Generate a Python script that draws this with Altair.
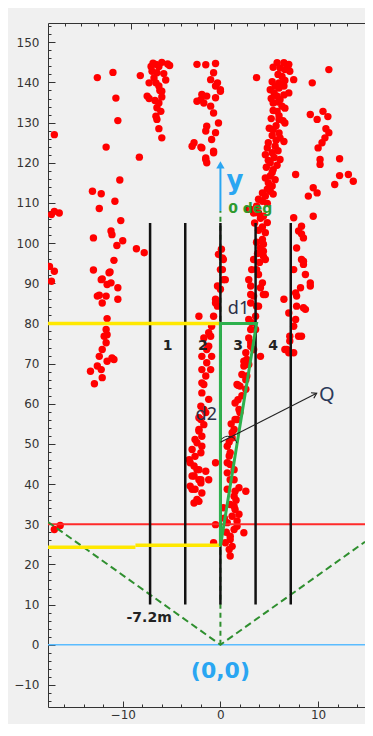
import altair as alt
import pandas as pd

# ---------------- scales ----------------
XDOM = [-17.65, 14.8]
YDOM = [-15.5, 154.8]
TOPDOM = [0, 3.819]

# ---------------- axis ticks ----------------
x_major = [-10, 0, 10]
x_minor = [v for v in range(-16, 16, 2) if v % 10 != 0]
y_major = [-10, 0, 10, 20, 30, 40, 50, 60, 70, 80, 90, 100, 110, 120, 130, 140, 150]
y_minor = [v for v in range(-14, 155, 2) if v % 10 != 0]
top_major = [1, 2, 3]
top_minor = [0.2, 0.4, 0.6, 0.8, 1.2, 1.4, 1.6, 1.8, 2.2, 2.4, 2.6, 2.8, 3.2, 3.4, 3.6]

# ---------------- detected points (x [m], y [m]) ----------------
pts_top_left = [
    (-7.1, 144.0), (-6.6, 144.5), (-6.3, 144.0), (-5.4, 144.6), (-7.0, 142.8), (-6.5, 142.4),
    (-5.8, 142.2), (-6.8, 141.1), (-7.3, 139.9), (-6.6, 139.9), (-6.3, 139.1), (-6.0, 137.8),
    (-7.5, 136.6), (-7.3, 136.0), (-6.3, 134.9), (-6.5, 133.7), (-6.1, 132.8), (-6.6, 131.6),
    (-6.5, 130.8), (-6.3, 128.5), (-6.0, 126.2), (-6.0, 145.0), (-5.2, 144.2), (-6.9, 144.8),
    (-5.6, 140.6), (-6.2, 138.0), (-6.7, 135.5), (-6.0, 136.4), (-8.2, 141.7),
]
pts_left_sparse = [
    (-12.6, 141.2), (-11.0, 142.5), (-10.7, 136.1), (-10.5, 130.5), (-11.7, 123.9), (-8.3, 121.4),
    (-10.3, 115.7), (-17.0, 127.0), (-13.1, 112.9), (-12.2, 112.3), (-10.8, 110.4), (-12.4, 108.6),
    (-10.2, 105.6), (-11.2, 103.0), (-11.1, 102.1), (-13.0, 101.3), (-10.0, 100.6), (-10.6, 99.4),
    (-8.6, 98.6), (-7.8, 97.6), (-10.9, 95.7), (-13.0, 93.3), (-11.3, 92.8), (-12.1, 91.1),
    (-11.2, 90.1), (-11.6, 89.7), (-10.5, 88.9), (-12.4, 87.0), (-11.7, 86.8), (-12.1, 85.1),
    (-10.5, 86.0), (-11.6, 81.2), (-11.7, 78.5), (-11.6, 77.2), (-11.9, 76.8), (-11.7, 75.2),
    (-12.1, 73.5), (-12.4, 71.8), (-11.6, 70.6), (-11.1, 71.4), (-12.6, 69.4), (-13.3, 68.1),
    (-12.2, 68.5), (-12.1, 66.5), (-12.9, 65.0), (-12.2, 90.9), (-11.4, 92.6), (-12.6, 86.8),
    (-10.9, 71.0),
]
pts_left_edge = [
    (-17.3, 107.1), (-17.0, 107.9), (-16.5, 107.5), (-17.5, 94.2), (-17.0, 93.0), (-17.3, 90.5),
    (-17.0, 28.7), (-16.4, 29.7),
]
pts_col_center = [
    (-1.5, 144.4), (-0.5, 144.7), (-0.7, 142.4), (-1.0, 140.7), (-0.3, 139.9), (-0.5, 139.1),
    (0.0, 137.8), (-1.9, 137.0), (-1.4, 136.6), (-0.5, 136.2), (-1.7, 134.9), (-1.0, 134.1),
    (-0.7, 132.4), (-0.2, 129.9), (-1.4, 129.1), (-1.5, 127.9), (-0.5, 127.5), (-0.9, 125.8),
    (-1.9, 123.7), (-0.7, 122.9), (-1.5, 121.2), (-1.4, 120.0), (-2.4, 144.5), (-2.7, 125.0),
    (-2.9, 124.1), (-2.0, 123.9), (-2.4, 135.3), (-2.0, 135.7), (-1.5, 120.8), (0.0, 138.2),
    (-0.7, 122.5),
]
pts_band_top = [
    (5.8, 144.9), (6.5, 144.9), (7.0, 144.5), (6.1, 143.6), (6.6, 143.2), (7.1, 142.8), (7.5, 140.7),
    (6.3, 141.5), (6.0, 139.9), (5.1, 138.2), (5.6, 139.1), (6.5, 139.1), (7.0, 137.4), (5.8, 136.6),
    (6.1, 135.7), (5.4, 134.9), (6.3, 134.1), (5.8, 132.8), (6.6, 129.9), (6.0, 130.8), (5.4, 128.3),
    (6.1, 126.2), (4.9, 125.0), (4.8, 123.7), (5.6, 124.1), (5.3, 122.5), (6.1, 120.8), (5.1, 120.0),
    (5.4, 118.3), (5.1, 116.7), (4.9, 115.0), (5.3, 114.2), (5.4, 143.8), (6.9, 143.9), (5.9, 142.0),
    (6.6, 140.5), (5.3, 140.2), (6.0, 138.6), (5.5, 137.4), (6.5, 136.9), (5.2, 136.0), (5.9, 135.1),
    (6.6, 133.6), (5.4, 133.0), (6.0, 131.7), (5.2, 131.0), (6.4, 130.5), (5.7, 129.2), (5.0, 128.6),
    (6.0, 127.4), (5.3, 126.8), (5.7, 125.6), (6.5, 125.3), (5.9, 123.0), (4.6, 122.0), (5.5, 121.3),
    (4.9, 120.6), (5.8, 119.4), (4.7, 118.9), (5.3, 117.6), (4.6, 116.2), (5.6, 115.8), (4.8, 113.4),
    (5.4, 112.2), (3.7, 141.2),
]
pts_band_mid = [
    (5.1, 112.9), (4.6, 111.7), (4.3, 110.4), (3.7, 109.2), (3.1, 108.4), (3.9, 107.5), (4.4, 106.7),
    (4.8, 105.1), (4.6, 102.6), (4.3, 100.9), (4.1, 98.8), (4.4, 98.0), (4.6, 95.9), (3.4, 95.9),
    (3.2, 93.4), (3.9, 92.2), (2.9, 90.9), (3.1, 89.3), (4.1, 88.9), (4.4, 87.2), (3.4, 86.8),
    (3.1, 85.1), (3.9, 84.3), (3.6, 81.8), (3.2, 80.2), (3.1, 78.5), (2.9, 76.4), (3.1, 74.3),
    (2.6, 72.7), (2.7, 71.0), (2.4, 69.4), (2.2, 67.3), (2.6, 66.0), (1.7, 64.8), (4.4, 96.7),
    (3.7, 93.4), (4.3, 90.1), (3.1, 87.2), (4.6, 87.2), (3.7, 84.3), (2.9, 81.0), (3.6, 78.5),
    (3.1, 75.2), (3.4, 73.5), (2.4, 70.6), (2.9, 69.8), (2.7, 66.9), (2.0, 64.4), (2.6, 63.6),
    (4.1, 71.8), (1.8, 64.6), (3.4, 107.5), (4.3, 112.5), (3.9, 110.9), (4.8, 109.9), (3.6, 108.1),
    (4.1, 106.2), (3.5, 105.0), (4.3, 104.0), (3.9, 103.2), (3.7, 100.2), (4.4, 99.7), (3.8, 97.4),
    (4.0, 95.2), (2.9, 108.4),
]
pts_band_low = [
    (1.5, 60.2), (2.0, 57.8), (1.7, 56.1), (1.4, 53.6), (1.2, 51.5), (0.7, 49.4), (1.0, 47.8),
    (0.7, 45.3), (1.4, 43.6), (1.0, 41.1), (1.5, 38.2), (1.9, 58.6), (1.5, 56.1), (1.2, 52.8),
    (0.9, 47.0), (1.0, 44.9), (0.7, 42.8), (1.4, 41.1), (0.7, 38.7), (1.9, 39.1), (2.6, 38.2),
    (1.4, 37.0), (1.0, 34.9), (0.3, 34.1), (1.5, 33.7), (1.2, 32.0), (1.7, 30.8), (0.7, 30.4),
    (1.4, 28.7), (2.4, 27.9), (1.0, 27.0), (0.5, 25.4), (0.9, 23.7), (1.0, 22.1), (-0.5, 29.9),
    (-0.7, 25.4), (1.4, 34.5), (1.7, 29.5), (1.0, 26.2), (2.2, 62.0), (1.8, 61.0), (1.1, 55.0),
    (0.9, 50.5), (1.6, 36.0), (0.4, 31.5), (1.9, 32.5), (1.2, 24.5), (0.6, 28.0),
]
pts_lane2 = [
    (0.3, 95.9), (0.2, 93.4), (0.5, 90.9), (-0.3, 89.3), (0.0, 88.5), (-0.5, 86.0), (-0.3, 84.3),
    (-0.7, 81.8), (-0.9, 79.3), (-1.0, 76.8), (-1.2, 74.3), (-0.9, 71.8), (-1.4, 70.2), (-1.0, 68.5),
    (-1.5, 66.9), (-1.9, 65.2), (-2.2, 81.8), (0.2, 96.3), (0.0, 93.4), (0.3, 90.9), (-0.5, 85.1),
    (-1.2, 77.7), (-1.7, 76.4), (-1.4, 73.5), (-1.9, 71.8), (-1.9, 68.5), (-1.7, 64.8), (-1.9, 62.7),
    (-1.2, 61.1), (-2.0, 59.4), (-1.5, 57.8), (-2.2, 56.5), (-1.7, 54.8), (-2.2, 53.2), (-1.9, 51.9),
    (-2.4, 50.3), (-2.9, 48.6), (-2.6, 46.9), (-3.1, 45.3), (-2.4, 43.6), (-2.7, 42.0), (-2.0, 40.3),
    (-2.9, 38.7), (-2.2, 41.1), (-0.5, 45.3), (-1.7, 58.6), (-2.0, 56.1), (-2.2, 53.6), (-2.6, 51.1),
    (-1.9, 49.4), (-2.0, 47.8), (-3.2, 46.1), (-2.7, 44.5), (-2.2, 43.6), (-1.5, 43.2), (-2.9, 42.0),
    (-2.0, 41.1), (-1.2, 41.1), (-3.1, 39.5), (-2.6, 38.7), (-1.9, 37.8), (-2.4, 36.2), (-2.7, 35.3),
    (-2.2, 35.7), (0.1, 98.5), (-0.2, 97.2),
]
pts_lane4 = [
    (7.5, 106.3), (9.5, 106.7), (8.3, 104.2), (8.5, 101.3), (7.8, 98.8), (7.5, 93.4), (8.5, 95.5),
    (8.7, 92.2), (9.2, 89.3), (8.2, 88.9), (7.8, 86.8), (6.5, 86.0), (8.5, 83.9), (7.0, 82.6),
    (7.7, 81.0), (8.0, 76.8), (7.1, 75.6), (6.8, 73.5), (7.0, 72.7), (8.3, 95.9), (8.5, 94.7),
    (9.2, 90.1), (7.7, 87.6), (7.8, 84.3), (8.7, 83.5), (7.5, 79.3), (7.1, 76.8), (8.3, 76.8),
    (6.6, 73.5), (7.5, 72.7), (8.0, 103.0), (8.3, 102.3),
]
pts_right_sparse = [
    (11.1, 143.2), (9.4, 139.9), (10.5, 132.8), (9.2, 132.0), (9.9, 130.8), (11.1, 127.5),
    (10.7, 126.2), (10.4, 125.0), (10.0, 123.7), (10.2, 120.8), (10.2, 119.6), (12.2, 121.0),
    (12.2, 116.8), (13.1, 117.1), (13.6, 115.4), (11.7, 114.6), (9.5, 113.8), (7.7, 117.1),
    (9.9, 112.5), (9.0, 111.7), (11.0, 131.5), (10.8, 128.5),
]
pts_right_edge = [(15.65, 41.1), (15.65, 34.9), (15.65, 29.9)]

# ---------------- overlay geometry (metres) ----------------
lane_x = [-7.2, -3.6, 0, 3.6, 7.2]
lane_y0, lane_y1 = 10, 105
lane_labels = ["1", "2", "3", "4"]
lane_label_x = [-5.4, -1.8, 1.8, 5.4]
lane_label_y = 74.5

yellow_x0 = [XDOM[0], XDOM[0], -8.7]
yellow_x1 = [0, -8.7, 0]
yellow_y = [80, 24.3, 24.8]

red_line_y = 30
origin_line_y = 0

fov_x = [XDOM[0], 0, XDOM[1]]
fov_y = [30.57, 0, 25.63]
heading_y = [0, 108]

y_arrow = [108, 119.5]

green_x = [0, 0, 3.7, 0]
green_y = [24.5, 80, 80, 24.5]

q_x = [0, 9.85]
q_y = [50.4, 62.6]
arc_x = [0.1, 0.7, 1.3, 1.7]
arc_y = [51.2, 51.9, 51.6, 50.2]

# ---------------- helpers ----------------
def sx():
    return alt.Scale(domain=XDOM, nice=False, zero=False)


def sy():
    return alt.Scale(domain=YDOM, nice=False, zero=False)


def X(f, axis=None):
    if axis is None:
        return alt.X(f, type="quantitative", scale=sx(), axis=None)
    return alt.X(f, type="quantitative", scale=sx(), axis=axis)


def Y(f, axis=None):
    if axis is None:
        return alt.Y(f, type="quantitative", scale=sy(), axis=None)
    return alt.Y(f, type="quantitative", scale=sy(), axis=axis)


AX = dict(grid=False, title=None, domainColor="#333333", tickColor="#333333", labelColor="#333333",
          labelFont="DejaVu Sans", labelFontSize=12, tickWidth=1, domainWidth=1, labelFlush=False)

axA_x = alt.Axis(orient="bottom", values=x_major, ticks=False, tickSize=0, labelPadding=2, **AX)
axB_x = alt.Axis(orient="bottom", values=x_major, tickSize=6, offset=-6, domain=False, labels=False, **AX)
axC_x = alt.Axis(orient="bottom", values=x_minor, tickSize=3, offset=-3, domain=False, labels=False, **AX)
axA_y = alt.Axis(orient="left", values=y_major, ticks=False, tickSize=0, labelPadding=9, **AX)
axB_y = alt.Axis(orient="left", values=y_major, tickSize=7, offset=-7, domain=False, labels=False, **AX)
axC_y = alt.Axis(orient="left", values=y_minor, tickSize=3, offset=-3, domain=False, labels=False, **AX)

# ---------------- points ----------------
all_pts = (pts_top_left + pts_left_sparse + pts_left_edge + pts_col_center + pts_band_top +
           pts_band_mid + pts_band_low + pts_lane2 + pts_lane4 + pts_right_sparse + pts_right_edge)
df_pts = pd.DataFrame(all_pts, columns=["x", "y"])

points = alt.Chart(df_pts).mark_circle(size=55, color="#ff0000", opacity=1, clip=True).encode(
    x=X("x", axA_x), y=Y("y", axA_y))

# horizontal reference lines
red_rule = alt.Chart(pd.DataFrame({"y": [red_line_y]})).mark_rule(
    color="#ff2a2a", strokeWidth=2).encode(y=Y("y"))
blue_rule = alt.Chart(pd.DataFrame({"y": [origin_line_y]})).mark_rule(
    color="#5bbcff", strokeWidth=1.5).encode(y=Y("y"))

# FOV dashed lines
df_fov = pd.DataFrame({"x": fov_x, "y": fov_y, "o": [0, 1, 2]})
fov = alt.Chart(df_fov).mark_line(color="#2f8f2f", strokeWidth=2, strokeDash=[7, 4], clip=True).encode(
    x=X("x"), y=Y("y"), order="o:Q")
df_head = pd.DataFrame({"x": [0], "y": [heading_y[0]], "y2": [heading_y[1]]})
heading = alt.Chart(df_head).mark_rule(color="#2f8f2f", strokeWidth=2, strokeDash=[5, 4]).encode(
    x=X("x"), y=Y("y"), y2="y2")

# lanes
df_lanes = pd.DataFrame({"x": lane_x, "y": [lane_y0] * 5, "y2": [lane_y1] * 5})
lanes = alt.Chart(df_lanes).mark_rule(color="#111111", strokeWidth=2.5).encode(
    x=X("x", axB_x), y=Y("y", axB_y), y2="y2")

# yellow lines
df_yel = pd.DataFrame({"x": yellow_x0, "x2": yellow_x1, "y": yellow_y})
yellow = alt.Chart(df_yel).mark_rule(color="#ffe800", strokeWidth=3.5).encode(
    x=X("x", axC_x), x2="x2", y=Y("y", axC_y))

# blue y arrow
df_ya = pd.DataFrame({"x": [0], "y": [y_arrow[0]], "y2": [y_arrow[1]]})
y_shaft = alt.Chart(df_ya).mark_rule(color="#2aa6f2", strokeWidth=2).encode(x=X("x"), y=Y("y"), y2="y2")
y_head = alt.Chart(pd.DataFrame({"x": [0], "y": [y_arrow[1]]})).mark_point(
    shape="triangle-up", size=70, filled=True, color="#2aa6f2", opacity=1).encode(x=X("x"), y=Y("y"))

# green triangle
df_green = pd.DataFrame({"x": green_x, "y": green_y, "o": [0, 1, 2, 3]})
green = alt.Chart(df_green).mark_line(color="#2db14d", strokeWidth=3).encode(
    x=X("x"), y=Y("y"), order="o:Q")

# Q arrow
df_q = pd.DataFrame({"x": q_x, "y": q_y, "o": [0, 1]})
q_line = alt.Chart(df_q).mark_line(color="#222222", strokeWidth=1.1).encode(x=X("x"), y=Y("y"), order="o:Q")
q_head = alt.Chart(pd.DataFrame({"x": [q_x[1]], "y": [q_y[1]]})).mark_point(
    shape="M -1 -0.65 L 0 0 L -1 0.65", size=90, filled=False, color="#222222", strokeWidth=1.2,
    angle=333, opacity=1).encode(x=X("x"), y=Y("y"))
df_arc = pd.DataFrame({"x": arc_x, "y": arc_y, "o": [0, 1, 2, 3]})
arc = alt.Chart(df_arc).mark_line(color="#222222", strokeWidth=1, interpolate="monotone").encode(
    x=X("x"), y=Y("y"), order="o:Q")

# texts
df_lab = pd.DataFrame({"x": lane_label_x, "y": [lane_label_y] * 4, "t": lane_labels})
lane_text = alt.Chart(df_lab).mark_text(font="DejaVu Sans", fontSize=14, fontWeight="bold",
                                        color="#222222").encode(x=X("x"), y=Y("y"), text="t:N")


def label(txt, x, y, **kw):
    return alt.Chart(pd.DataFrame({"x": [x], "y": [y], "t": [txt]})).mark_text(**kw).encode(
        x=X("x"), y=Y("y"), text="t:N")


t_d1 = label("d1", 1.85, 83.5, font="Noto Sans", fontSize=18, color="#2c2f48")
t_d2 = label("d2", -1.45, 57.2, font="Noto Sans", fontSize=18, color="#2c2f48")
t_q = label("Q", 10.9, 62.1, font="Noto Sans", fontSize=20, color="#2c3a5a")
t_72 = label("-7.2m", -7.3, 6.7, font="DejaVu Sans", fontSize=14, fontWeight="bold", color="#222222")
t_00 = label("(0,0)", 0, -6.6, font="DejaVu Sans", fontSize=22, fontWeight="bold", color="#2aa6f2")
t_y = label("y", 1.5, 115.5, font="DejaVu Sans", fontSize=26, fontWeight="bold", color="#2aa6f2")
t_deg = label("0 deg", 0.8, 108.6, font="DejaVu Sans", fontSize=14, fontWeight="bold", color="#2e9a2e",
              align="left")

# top axis (separate scale, ticks only)
df_top = pd.DataFrame({"t": TOPDOM})
st = alt.Scale(domain=TOPDOM, nice=False, zero=False)
topA = alt.Chart(df_top).mark_point(opacity=0).encode(
    x=alt.X("t:Q", scale=st, axis=alt.Axis(orient="top", ticks=False, tickSize=0, labels=False, **AX)))
topB = alt.Chart(df_top).mark_point(opacity=0).encode(
    x=alt.X("t:Q", scale=st, axis=alt.Axis(orient="top", values=top_major, tickSize=6, offset=-6,
                                           domain=False, labels=False, **AX)))
topC = alt.Chart(df_top).mark_point(opacity=0).encode(
    x=alt.X("t:Q", scale=st, axis=alt.Axis(orient="top", values=top_minor, tickSize=3, offset=-3,
                                           domain=False, labels=False, **AX)))

chart = alt.layer(
    points, red_rule, blue_rule, fov, heading, lanes, yellow, y_shaft, y_head, green,
    q_line, q_head, arc, lane_text, t_d1, t_d2, t_q, t_72, t_00, t_y, t_deg, topA, topB, topC
).resolve_scale(x="independent", y="independent").properties(
    width=317, height=684,
    padding={"left": 40, "top": 15, "right": 0, "bottom": 17},
    autosize=alt.AutoSizeParams(type="none"),
).configure(background="#f0f0f0").configure_view(strokeWidth=0)

chart.save("out.html", embed_options={"renderer": "svg", "actions": False})
